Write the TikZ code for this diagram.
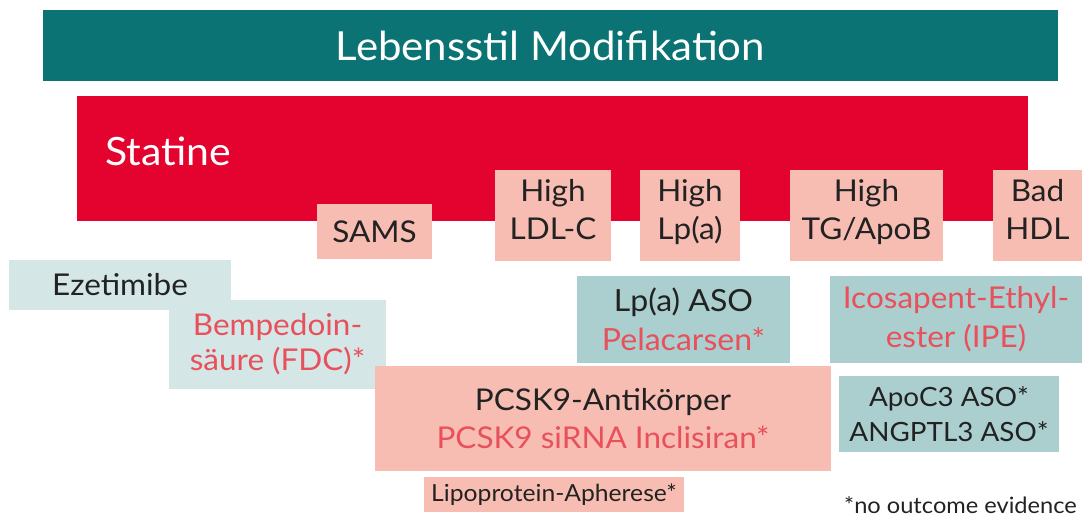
\documentclass[tikz,border=0pt]{standalone}
\usepackage{fontspec}
\setmainfont{Lato}[FakeStretch=1.05]
\definecolor{darkteal}{HTML}{0B7373}
\definecolor{statred}{HTML}{E4032E}
\definecolor{pinkbox}{HTML}{F7BDB2}
\definecolor{lightteal}{HTML}{D5E6E6}
\definecolor{midteal}{HTML}{ABCFCF}
\definecolor{redtxt}{HTML}{E8505B}
\definecolor{darktxt}{HTML}{222222}
\tikzset{
  rbox/.style={rectangle, inner sep=0pt, outer sep=0pt, anchor=north west, align=center, text=darktxt},
  big/.style={font=\fontsize{40}{48}\selectfont},
  mid/.style={font=\fontsize{30}{38}\selectfont},
  small/.style={font=\fontsize{23.5}{28}\selectfont},
}
\begin{document}
\begin{tikzpicture}[x=1pt,y=-1pt]
\useasboundingbox (0,0) rectangle (1082,517);
\node[rbox, fill=darkteal, minimum width=1015pt, minimum height=71pt, text=white, big] (life) at (43,10) {Lebensstil Modifikation};
\node[rbox, fill=statred, minimum width=951pt, minimum height=125pt] (statbox) at (77,96) {};
\node[anchor=base west, inner sep=0pt, text=white, font=\fontsize{39}{46}\selectfont] (statine) at (105,165) {Statine};
\node[rbox, fill=pinkbox, minimum width=115pt, minimum height=55pt, mid] (sams) at (317,204) {SAMS};
\node[rbox, fill=pinkbox, minimum width=116pt, minimum height=91pt, mid, yshift=-2pt] (ldl) at (495,168) {High\\LDL-C\strut};
\node[rbox, fill=pinkbox, minimum width=100pt, minimum height=91pt, mid, yshift=-2pt] (lpa) at (640,168) {High\\Lp(a)\strut};
\node[rbox, fill=pinkbox, minimum width=153pt, minimum height=91pt, mid, yshift=-2pt] (tg) at (790,168) {High\\TG/ApoB\strut};
\node[rbox, fill=pinkbox, minimum width=89pt, minimum height=91pt, mid, yshift=-2pt] (hdl) at (993,168) {Bad\\HDL\strut};
\node[rbox, fill=lightteal, minimum width=222pt, minimum height=50pt, font=\fontsize{30}{36}\selectfont] (eze) at (9,260) {Ezetimibe};
\node[rbox, fill=lightteal, minimum width=217pt, minimum height=89pt, font=\fontsize{30}{35}\selectfont, text=redtxt] (bemp) at (169,300) {Bempedoin-\\säure (FDC)*};
\node[rbox, fill=midteal, minimum width=213pt, minimum height=87pt, font=\fontsize{30.5}{39}\selectfont] (lpaaso) at (577,276) {Lp(a) ASO\\\textcolor{redtxt}{Pelacarsen*}};
\node[rbox, fill=midteal, minimum width=252pt, minimum height=87pt, font=\fontsize{30}{39}\selectfont, text=redtxt] (ipe) at (830,276) {Icosapent-Ethyl-\\ester (IPE)};
\node[rbox, fill=pinkbox, minimum width=456pt, minimum height=105pt, font=\fontsize{30}{38}\selectfont] (pcsk) at (375,366) {PCSK9-Antikörper\\\textcolor{redtxt}{PCSK9 siRNA Inclisiran*}};
\node[rbox, fill=midteal, minimum width=220pt, minimum height=76pt, font=\fontsize{26.5}{35}\selectfont] (apoc) at (839,376) {ApoC3 ASO*\\ANGPTL3 ASO*};
\node[rbox, fill=pinkbox, minimum width=260pt, minimum height=35pt, small] (aph) at (424,477) {Lipoprotein-Apherese*};
\node[anchor=base east, inner sep=0pt, text=darktxt, font=\fontsize{22.5}{27}\selectfont] (note) at (1077,513) {*no outcome evidence};
\end{tikzpicture}
\end{document}
